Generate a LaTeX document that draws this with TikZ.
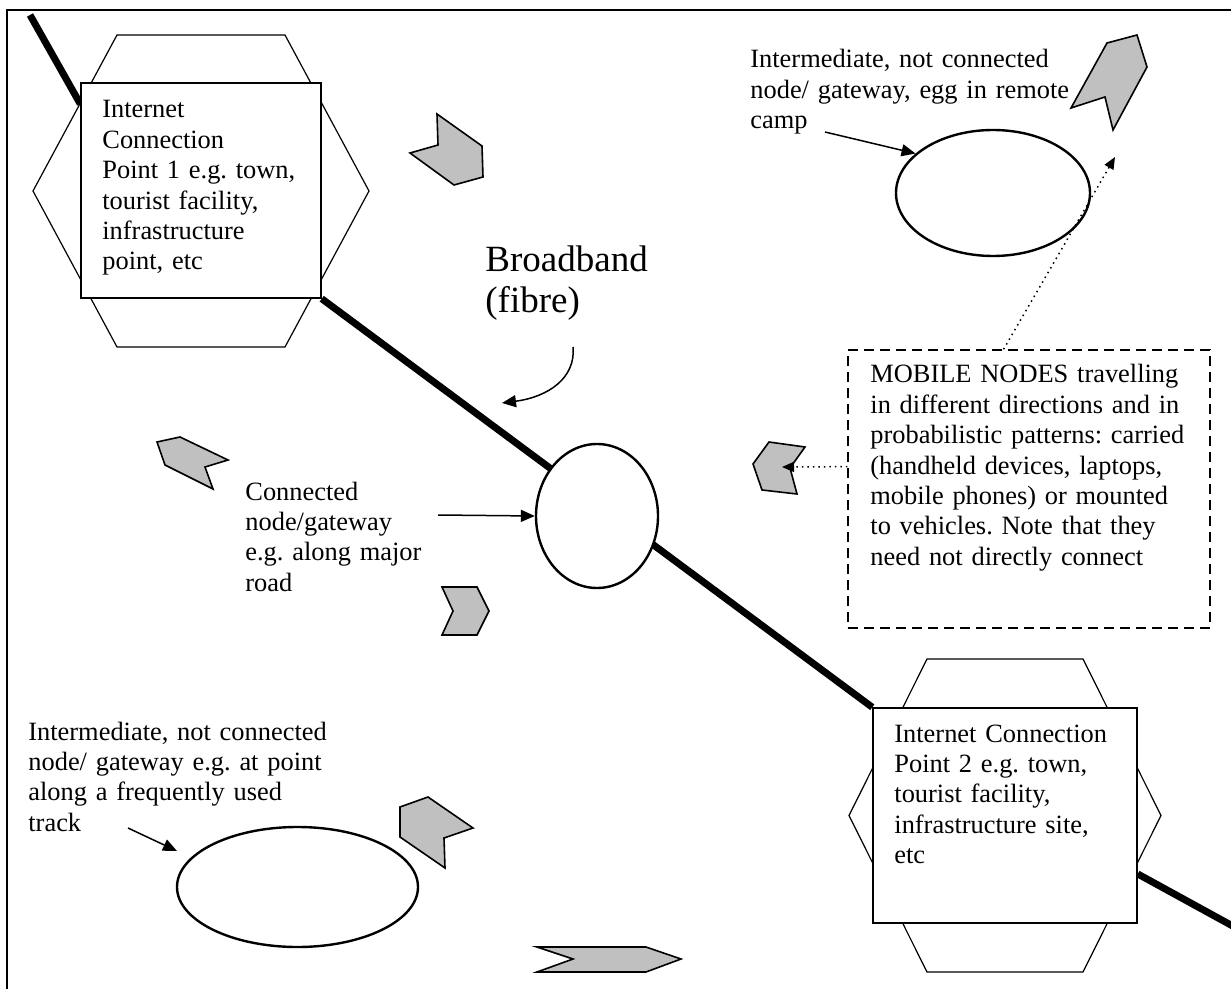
\documentclass[tikz,border=0pt]{standalone}
\usepackage{fontspec}
\setmainfont{Liberation Serif}
\usetikzlibrary{shapes.geometric,arrows.meta,backgrounds,calc}

\definecolor{mobgray}{HTML}{C0C0C0}

\tikzset{
  icbox/.style={draw, fill=white, line width=0.75pt, inner sep=0pt},
  gw/.style={ellipse, draw, fill=white, line width=1.2pt, inner sep=0pt},
  notebox/.style={draw, dash pattern=on 5pt off 3pt, line width=0.7pt, inner sep=0pt},
  txt/.style={font=\fontsize{13.2}{15.2}\selectfont, align=left, text width=200pt, inner sep=0pt, anchor=base west},
  bigtxt/.style={font=\fontsize{18.5}{20.5}\selectfont, align=left, text width=120pt, inner sep=0pt, anchor=base west},
  hexline/.style={line width=0.6pt},
  fibre/.style={line width=3.5pt},
  pointer/.style={line width=0.75pt, -{Triangle[length=7pt,width=6pt]}},
  hintline/.style={line width=0.75pt, dotted, -{Triangle[length=6pt,width=5pt]}},
  mobile/.style={draw, fill=mobgray, line width=0.8pt, line join=miter}
}

\begin{document}
\frenchspacing
\begin{tikzpicture}[x=0.5pt, y=-0.5pt]
    \useasboundingbox (0,0) rectangle (1231,989);

    % Cornice (solo lato alto e sinistro visibili)
    \draw[line width=1pt] (1231,10) -- (7,10) -- (7,989);

    % Punti di connessione a internet (riquadri)
    \node[icbox, minimum width=120pt, minimum height=107.5pt] (ic1) at (201,190.5) {};
    \node[icbox, minimum width=132pt, minimum height=107.5pt] (ic2) at (1005,815.5) {};
    \node[txt] (ic1txt) at (102,118) {Internet\\Connection\\Point 1 e.g. town,\\tourist facility,\\infrastructure\\point, etc};
    \node[txt] (ic2txt) at (894,742) {Internet Connection\\Point 2 e.g. town,\\tourist facility,\\infrastructure site,\\etc};

    % Gateway (ellissi)
    \node[gw, minimum width=61pt, minimum height=72pt] (hub) at (597,516) {};
    \node[gw, minimum width=97pt, minimum height=63pt] (camp) at (993,193) {};
    \node[gw, minimum width=120.5pt, minimum height=60pt] (track) at (297.5,887) {};

    % Nota sui nodi mobili
    \node[notebox, minimum width=181pt, minimum height=139pt] (mobnote) at (1029,489) {};
    \node[txt] (mobtxt) at (870,383) {MOBILE NODES travelling\\in different directions and in\\probabilistic patterns: carried\\(handheld devices, laptops,\\mobile phones) or mounted\\to vehicles. Note that they\\need not directly connect};

    % Esagoni e fibra sullo sfondo
    \coordinate (f0) at (30,15);
    \coordinate (f3) at (1240,930);
    \begin{scope}[on background layer]
        \draw[hexline] (117,35) -- (285,35) -- (369,191) -- (285,347) -- (117,347) -- (33,191) -- cycle;
        \draw[hexline] (927,659) -- (1083,659) -- (1161,815.5) -- (1083,972) -- (927,972) -- (849,815.5) -- cycle;
        \draw[fibre] (f0) -- ($(ic1.north west)!0.1!(ic1.south west)$);
        \draw[fibre] (ic1.south east) -- (ic2.north west);
        \draw[fibre] ($(ic2.north east)!0.77!(ic2.south east)$) -- (f3);
    \end{scope}

    % Etichette
    \node[bigtxt] (bbtxt) at (485,272) {Broadband\\(fibre)};
    \node[txt] (conntxt) at (245,500) {Connected\\node/gateway\\e.g. along major\\road};
    \node[txt] (camptxt) at (750,68) {Intermediate, not connected\\node/ gateway, egg in remote\\camp};
    \node[txt] (tracktxt) at (28,740) {Intermediate, not connected\\node/ gateway e.g. at point\\along a frequently used\\track};

    % Frecce delle etichette
    \coordinate (bbtail) at (573,347);
    \coordinate (bbtip) at (502,403);
    \coordinate (conntail) at (438,515);
    \coordinate (camptail) at (825,132);
    \coordinate (tracktail) at (128,828);
    \coordinate (tracktip) at (177,851);
    \draw[pointer] (bbtail) .. controls (576,378) and (548,397) .. (bbtip);
    \draw[pointer] (conntail) -- (hub.west);
    \draw[pointer] (camptail) -- (camp.153);
    \draw[pointer] (tracktail) -- (tracktip);

    % Nodi mobili (frecce grigie)
    \draw[mobile] (437,114) -- (482,146) -- (483,177) -- (454,185) -- (410,153) -- (438,145) -- cycle;
    \draw[mobile] (157,442) -- (180,437) -- (228,460) -- (205,467) -- (213,489) -- (165,465) -- cycle;
    \draw[mobile] (442,587) -- (477,587) -- (489,611) -- (477,635) -- (442,635) -- (453,611) -- cycle;
    \draw[mobile] (1107,43) -- (1137,35) -- (1147,67) -- (1113,130) -- (1105,97) -- (1071,108) -- cycle;
    \draw[mobile] (769,442) -- (805,447) -- (790,468) -- (797,494) -- (762,490) -- (753,464) -- cycle;
    \draw[mobile] (400,807) -- (428,797) -- (473,828) -- (444,838) -- (445,868) -- (400,837) -- cycle;
    \draw[mobile] (537,947) -- (646,947) -- (681,959) -- (646,972) -- (537,972) -- (573,959) -- cycle;

    % Frecce punteggiate dalla nota
    \coordinate (mobleft) at (782,467);
    \coordinate (mobtopright) at (1115,157);
    \draw[hintline] ($(mobnote.north west)!0.42!(mobnote.south west)$) -- (mobleft);
    \draw[hintline] ($(mobnote.north west)!0.43!(mobnote.north east)$) -- (mobtopright);
\end{tikzpicture}
\end{document}
